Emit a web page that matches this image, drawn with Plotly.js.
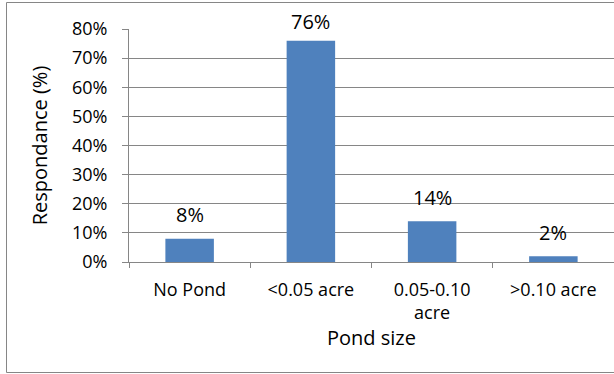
<!DOCTYPE html>
<html>
<head>
<meta charset="utf-8">
<script src="https://cdn.plot.ly/plotly-3.0.1.min.js"></script>
<style>
  html, body { margin: 0; padding: 0; background: #fff; }
  #chart { width: 614px; height: 374px; }
</style>
</head>
<body>
<div id="chart"></div>
<script>
// Share of respondents by pond size
var categories = ['No Pond', '<0.05 acre', '0.05-0.10<br>acre', '>0.10 acre'];
var responseShare = [0.08, 0.76, 0.14, 0.02];
var yTickValues = [0, 0.1, 0.2, 0.3, 0.4, 0.5, 0.6, 0.7, 0.8];

var W = 614, H = 374;
var M = { l: 129, r: 0, t: 29, b: 112 };
var plotH = H - M.t - M.b;
var yMax = 0.8;
var gray = '#868686';
var font = 'Open Sans, Liberation Sans, sans-serif';

// Value labels sit above each bar; keep them from running past the top of the chart
var labels = categories.map(function (c, i) {
  var v = responseShare[i];
  var topPx = M.t + (1 - v / yMax) * plotH;
  var shift = Math.min(24, topPx - 22);
  return {
    x: c, y: v, xref: 'x', yref: 'y',
    text: Math.round(v * 100) + '%',
    showarrow: false, yanchor: 'middle', yshift: shift,
    font: { family: font, size: 20, color: '#000' }
  };
});

// Outer chart frame, expressed in paper units of the plot area
function px2paperX(px) { return (px - M.l) / (W - M.l - M.r); }
function px2paperY(py) { return (H - M.b - py) / plotH; }

var trace = {
  type: 'bar',
  x: categories,
  y: responseShare,
  marker: { color: '#4F81BD' },
  hoverinfo: 'none'
};

var layout = {
  width: W, height: H,
  margin: M,
  paper_bgcolor: '#fff', plot_bgcolor: '#fff',
  bargap: 0.6,
  showlegend: false,
  font: { family: font, color: '#000' },
  xaxis: {
    type: 'category',
    tickson: 'boundaries',
    ticks: 'outside', ticklen: 5, tickcolor: gray, tickwidth: 1,
    showline: true, linecolor: gray, linewidth: 1,
    showgrid: false, zeroline: false,
    ticklabelstandoff: 11,
    tickfont: { family: font, size: 18, color: '#000' },
    title: { text: 'Pond size', font: { family: font, size: 20, color: '#000' }, standoff: 6 },
    automargin: false
  },
  yaxis: {
    range: [0, yMax],
    tickvals: yTickValues,
    tickformat: '.0%',
    ticks: 'outside', ticklen: 6, tickcolor: gray, tickwidth: 1,
    showline: true, linecolor: gray, linewidth: 1,
    showgrid: true, gridcolor: gray, gridwidth: 1,
    zeroline: false,
    ticklabelstandoff: 11,
    tickfont: { family: font, size: 18, color: '#000' },
    title: { text: 'Respondance (%)', font: { family: font, size: 20, color: '#000' }, standoff: 18 },
    automargin: false
  },
  annotations: labels,
  shapes: [{
    type: 'rect', xref: 'paper', yref: 'paper',
    x0: px2paperX(6.5), x1: px2paperX(W + 6),
    y0: px2paperY(372.5), y1: px2paperY(2.5),
    line: { color: gray, width: 1 }, fillcolor: 'rgba(0,0,0,0)', layer: 'below'
  }]
};

Plotly.newPlot('chart', [trace], layout, { staticPlot: true, displayModeBar: false });
</script>
</body>
</html>
